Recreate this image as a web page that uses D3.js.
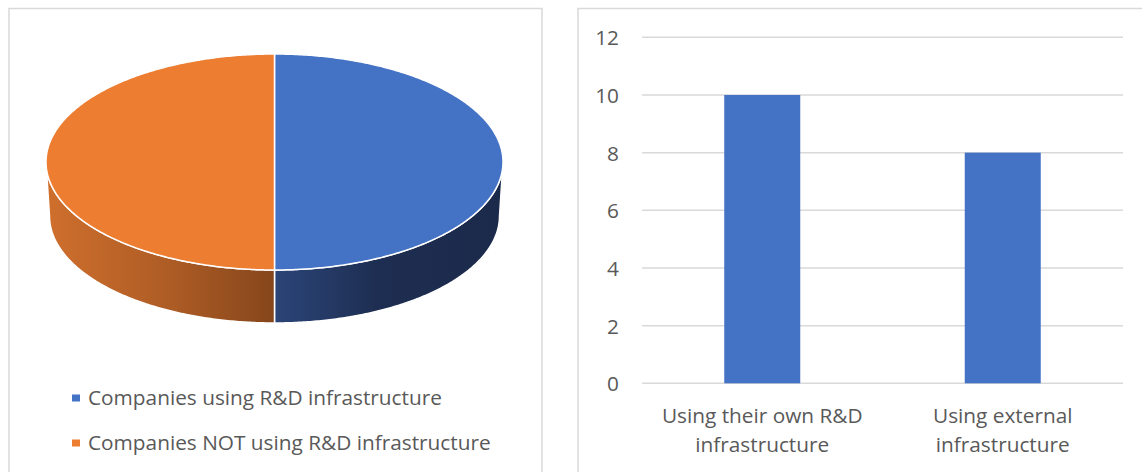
<!DOCTYPE html>
<html>
<head>
<meta charset="utf-8">
<script src="https://cdn.jsdelivr.net/npm/d3@7"></script>
<style>
  html, body { margin: 0; padding: 0; background: #fff; }
  svg { display: block; }
  text { font-family: "Open Sans", "Noto Sans", sans-serif; fill: #595959; }
</style>
</head>
<body>
<svg id="chart" width="1142" height="472"></svg>
<script>
// Pie: share of companies by R&D infrastructure use
const pieLabels = ["Companies using R&D infrastructure", "Companies NOT using R&D infrastructure"];
const pieValues = [10, 10];
const pieColors = ["#4472C4", "#ED7D31"];

// Bars: where the R&D infrastructure comes from
const barCategories = [["Using their own R&D", "infrastructure"], ["Using external", "infrastructure"]];
const barValues = [10, 8];
const yTicks = [0, 2, 4, 6, 8, 10, 12];

const svg = d3.select("#chart");
const defs = svg.append("defs");
const FONT = 20.8;

// panel frames
svg.append("rect").attr("x", 9).attr("y", 8.5).attr("width", 533).attr("height", 480)
  .attr("fill", "#fff").attr("stroke", "#d9d9d9").attr("stroke-width", 1.5);
svg.append("rect").attr("x", 578).attr("y", 8.5).attr("width", 600).attr("height", 480)
  .attr("fill", "#fff").attr("stroke", "#d9d9d9").attr("stroke-width", 1.5);

// ---------- 3D pie ----------
const cx = 274.5, topCy = 162, rxT = 228.5, ryT = 108;
const rxB = 225, ryB = 107, botCy = 216;
const ptTop = a => [cx + rxT * Math.sin(a), topCy - ryT * Math.cos(a)];
const ptBot = a => [cx + rxB * Math.sin(a), botCy - ryB * Math.cos(a)];
const sample = (a0, a1, f) => {
  const n = Math.max(2, Math.ceil((a1 - a0) / 0.01));
  return d3.range(n + 1).map(i => f(a0 + (a1 - a0) * i / n));
};
const line = d3.line();

const arcs = d3.pie().sort(null).startAngle(0).endAngle(2 * Math.PI)(pieValues);

// side wall gradients
const sideStops = [
  [["0%", "#2B4578"], ["45%", "#1E2E52"], ["100%", "#1B2A4A"]],
  [["0%", "#CF6F2D"], ["55%", "#AD5C25"], ["100%", "#85461B"]]
];
arcs.forEach((d, i) => {
  const a0 = Math.max(d.startAngle, Math.PI / 2), a1 = Math.min(d.endAngle, 3 * Math.PI / 2);
  const xs = [ptTop(a0)[0], ptTop(a1)[0]];
  const g = defs.append("linearGradient").attr("id", "side" + i)
    .attr("gradientUnits", "userSpaceOnUse")
    .attr("x1", Math.min(...xs)).attr("x2", Math.max(...xs))
    .attr("y1", 0).attr("y2", 0);
  sideStops[i].forEach(s => g.append("stop").attr("offset", s[0]).attr("stop-color", s[1]));
});

// side walls (front half only)
arcs.forEach((d, i) => {
  const a0 = Math.max(d.startAngle, Math.PI / 2), a1 = Math.min(d.endAngle, 3 * Math.PI / 2);
  if (a1 <= a0) return;
  const pts = sample(a0, a1, ptTop).concat(sample(a0, a1, ptBot).reverse());
  svg.append("path").attr("d", line(pts) + "Z")
    .attr("fill", `url(#side${i})`).attr("stroke", "#fff").attr("stroke-width", 1.5)
    .attr("stroke-linejoin", "round");
});

// top faces
arcs.forEach((d, i) => {
  const pts = [[cx, topCy]].concat(sample(d.startAngle, d.endAngle, ptTop));
  svg.append("path").attr("d", line(pts) + "Z")
    .attr("fill", pieColors[i]).attr("stroke", "#fff").attr("stroke-width", 1.5)
    .attr("stroke-linejoin", "round");
});

// legend
pieLabels.forEach((lab, i) => {
  const y = 398 + i * 45;
  svg.append("rect").attr("x", 72).attr("y", y - 3.5).attr("width", 8).attr("height", 7)
    .attr("fill", pieColors[i]);
  svg.append("text").attr("x", 88).attr("y", y + 7).attr("font-size", FONT).text(lab);
});

// ---------- bar chart ----------
const y = d3.scaleLinear().domain([0, 12]).range([383.3, 37.3]);
const x = d3.scaleBand().domain(barCategories.map(c => c.join(" ")))
  .range([642, 1123]).paddingInner(0.684).paddingOuter(0.342);

const grid = svg.append("g").attr("class", "grid");
grid.selectAll("line").data(yTicks).join("line")
  .attr("x1", 642).attr("x2", 1123)
  .attr("y1", d => y(d)).attr("y2", d => y(d))
  .attr("stroke", "#d9d9d9").attr("stroke-width", 1.5);

const yAxis = svg.append("g").attr("transform", "translate(619,0)")
  .call(d3.axisLeft(y).tickValues(yTicks).tickSize(0).tickPadding(0));
yAxis.select(".domain").remove();
yAxis.attr("font-family", null).attr("font-size", null);
yAxis.selectAll("text").attr("font-size", FONT).attr("fill", "#595959").attr("dy", "0.36em");

svg.selectAll("rect.bar").data(barValues).join("rect").attr("class", "bar")
  .attr("x", (d, i) => x(barCategories[i].join(" ")))
  .attr("width", x.bandwidth())
  .attr("y", d => y(d))
  .attr("height", d => y(0) - y(d))
  .attr("fill", "#4472C4");

barCategories.forEach(c => {
  const cxBand = x(c.join(" ")) + x.bandwidth() / 2;
  const t = svg.append("text").attr("text-anchor", "middle").attr("font-size", FONT).attr("x", cxBand);
  c.forEach((ln, j) => t.append("tspan").attr("x", cxBand).attr("y", 423.3 + j * 28.4).text(ln));
});
</script>
</body>
</html>
